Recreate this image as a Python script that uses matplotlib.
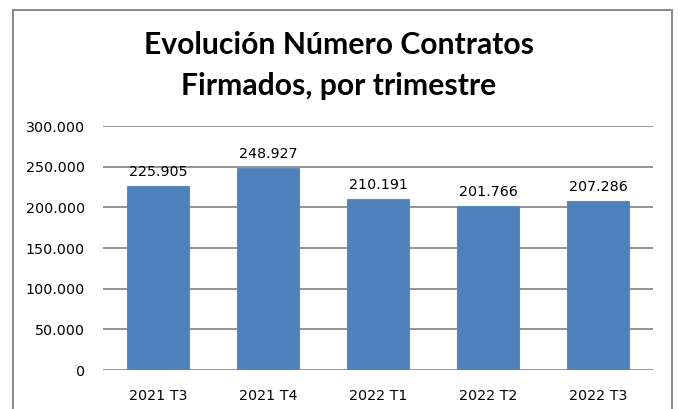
import matplotlib
matplotlib.use('Agg')
import matplotlib.pyplot as plt
from matplotlib.patches import Rectangle
from matplotlib.ticker import FuncFormatter

categories = ['2021 T3', '2021 T4', '2022 T1', '2022 T2', '2022 T3']
contratos = [225905, 248927, 210191, 201766, 207286]
yticks = [0, 50000, 100000, 150000, 200000, 250000, 300000]


def miles(v, pos=None):
    # Spanish thousands separator
    return '{:,.0f}'.format(v).replace(',', '.')


W, H = 678, 409
fig = plt.figure(figsize=(W / 100, H / 100), dpi=100)
fig.patch.set_facecolor('white')

# outer chart border (bottom edge falls outside the picture)
fig.patches.append(Rectangle((13 / W, -0.05), (672 - 13) / W, 1.05 - 10 / H,
                             transform=fig.transFigure, fill=False,
                             edgecolor='#8c8c8c', linewidth=1.5))

ax = fig.add_axes([103 / W, 1 - 370 / H, (653 - 103) / W, (370 - 126) / H])
x = range(len(categories))
bars = ax.bar(x, contratos, width=0.56, color='#4f81bd', edgecolor='#5a8ac6',
              linewidth=0.8, zorder=3)

ax.set_xlim(-0.5, len(categories) - 0.5)
ax.set_ylim(0, 300000)
ax.set_yticks(yticks)
ax.yaxis.set_major_formatter(FuncFormatter(miles))
ax.set_xticks(list(x))
ax.set_xticklabels(categories)
ax.grid(axis='y', color='#8a8a8a', linewidth=1.3, zorder=0)
for s in ax.spines.values():
    s.set_visible(False)
ax.tick_params(axis='both', length=0, labelsize=10.3, colors='black')
ax.tick_params(axis='y', pad=13)
ax.tick_params(axis='x', pad=14)

for b, v in zip(bars, contratos):
    ax.annotate(miles(v), (b.get_x() + b.get_width() / 2, v),
                xytext=(0, 5), textcoords='offset points',
                ha='center', va='bottom', fontsize=10.3)

fig.text(0.5, 1 - 45 / H, 'Evolución Número Contratos', ha='center', va='center',
         fontsize=21.7, fontweight='bold', family='Lato')
fig.text(0.5, 1 - 86 / H, 'Firmados, por trimestre', ha='center', va='center',
         fontsize=21.7, fontweight='bold', family='Lato')

fig.savefig('out.png', dpi=100, facecolor='white')
